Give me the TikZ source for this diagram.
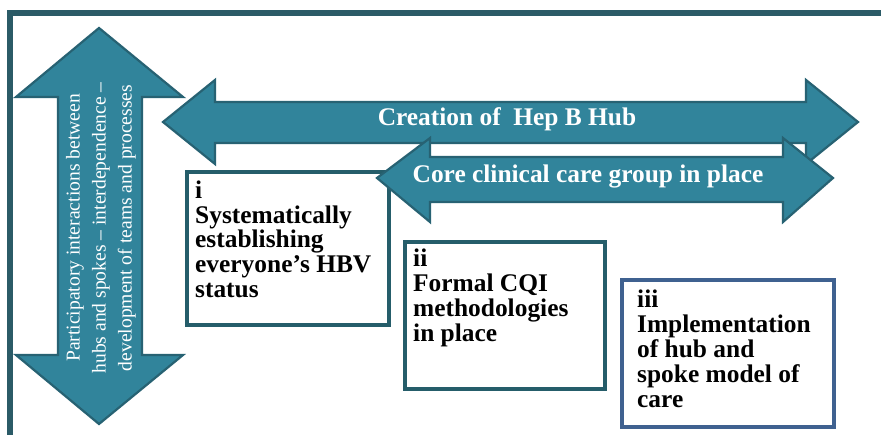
\documentclass[tikz,border=0pt]{standalone}
\usepackage{fontspec}
\setmainfont{Liberation Serif}
\definecolor{arrowfill}{HTML}{31849B}
\definecolor{arrowdraw}{HTML}{276273}
\definecolor{framecol}{HTML}{2B5B67}
\definecolor{boxteal}{HTML}{255D6A}
\definecolor{boxblue}{HTML}{3F6190}
\tikzset{
  bigarrow/.style={fill=arrowfill, draw=arrowdraw, line width=2.2pt, line join=miter},
  boxframe/.style={draw=#1, line width=4pt, fill=white, inner sep=0pt, anchor=north west},
  boxtxt/.style={font=\bfseries\fontsize{25.4}{24.8}\selectfont, align=left, anchor=north west, inner sep=0pt, text=black},
  arrtxt/.style={font=\bfseries\fontsize{25.4}{25}\selectfont, text=white, anchor=base, inner sep=0pt},
  vtxt/.style={font=\fontsize{19.6}{26}\selectfont, text=white, align=center, rotate=90, inner sep=0pt}
}
\begin{document}
\begin{tikzpicture}[x=1pt,y=-1pt]
\useasboundingbox[fill=white] (0,0) rectangle (881,435);
% outer frame (top and left)
\draw[framecol, line width=5.5pt] (10,435) -- (10,13) -- (881,13);
% vertical double arrow
\draw[bigarrow] (99,28) -- (183,97) -- (142,97) -- (142,355) -- (183,355) -- (99,424)
  -- (16,355) -- (58,355) -- (58,97) -- (16,97) -- cycle;
\node[vtxt] (vt) at (101,228) {Participatory interactions between\\hubs and spokes -- interdependence --\\development of teams and processes};
% big horizontal arrow
\draw[bigarrow] (163,122) -- (215,80) -- (215,102) -- (806,102) -- (806,80) -- (858,122)
  -- (806,164) -- (806,143) -- (215,143) -- (215,164) -- cycle;
\node[arrtxt] (hub) at (507,126) {Creation of \ Hep B Hub};
% boxes
\node[boxframe=boxteal, minimum width=202pt, minimum height=153pt] (b1) at (185,170) {};
\node[boxtxt] (t1) at (195,180.5) {i\\Systematically\\establishing\\everyone’s HBV\\status};
\node[boxframe=boxteal, minimum width=200pt, minimum height=147pt] (b2) at (403,240) {};
\node[boxtxt] (t2) at (413,249) {ii\\Formal CQI\\methodologies\\in place};
\node[boxframe=boxblue, minimum width=212pt, minimum height=147pt] (b3) at (620,278) {};
\node[boxtxt] (t3) at (637,290) {iii\\Implementation\\of hub and\\spoke model of\\care};
% second horizontal arrow
\draw[bigarrow] (377,178) -- (430,138) -- (430,157) -- (783,157) -- (783,138) -- (833,178)
  -- (783,222) -- (783,202) -- (430,202) -- (430,222) -- cycle;
\node[arrtxt] (core) at (588,183) {Core clinical care group in place};
\end{tikzpicture}
\end{document}
